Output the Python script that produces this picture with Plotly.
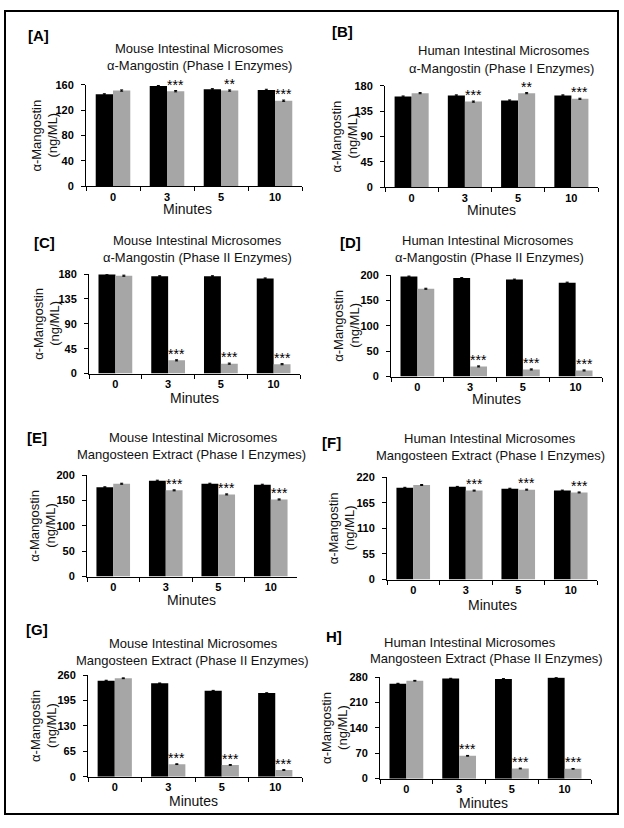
import plotly.graph_objects as go

# ---------------- data ----------------
minutes = ["0", "3", "5", "10"]

a_black = [145, 158, 153, 152]
a_grey = [151, 150, 151, 135]
a_stars = ["", "***", "**", "***"]

b_black = [161, 163, 154, 163]
b_grey = [167, 152, 167, 157]
b_stars = ["", "***", "**", "***"]

c_black = [179, 176, 176, 172]
c_grey = [177, 24, 18, 17]
c_stars = ["", "***", "***", "***"]

d_black = [197, 194, 191, 185]
d_grey = [173, 20, 14, 12]
d_stars = ["", "***", "***", "***"]

e_black = [176, 189, 183, 181]
e_grey = [183, 170, 162, 152]
e_stars = ["", "***", "***", "***"]

f_black = [197, 199, 195, 191]
f_grey = [203, 191, 193, 187]
f_stars = ["", "***", "***", "***"]

g_black = [246, 239, 220, 214]
g_grey = [252, 32, 30, 17]
g_stars = ["", "***", "***", "***"]

h_black = [262, 276, 275, 278]
h_grey = [270, 63, 28, 27]
h_stars = ["", "***", "***", "***"]

err_black = [1, 1, 1, 1]
err_grey = [1, 1, 1, 1]

y_ranges = [160, 180, 180, 200, 200, 220, 260, 280]
y_dticks = [40, 45, 45, 50, 50, 55, 65, 70]

panel_labels = ["[A]", "[B]", "[C]", "[D]", "[E]", "[F]", "[G]", "H]"]
title1 = ["Mouse Intestinal Microsomes", "Human Intestinal Microsomes"] * 4
title2 = ["α-Mangostin (Phase I Enzymes)", "α-Mangostin (Phase I Enzymes)",
          "α-Mangostin (Phase II Enzymes)", "α-Mangostin (Phase II Enzymes)",
          "Mangosteen Extract (Phase I Enzymes)", "Mangosteen Extract (Phase I Enzymes)",
          "Mangosteen Extract (Phase II Enzymes)", "Mangosteen Extract (Phase II Enzymes)"]
y_title1 = "α-Mangostin"
y_title2 = "(ng/ML)"
x_title = "Minutes"

blacks = [a_black, b_black, c_black, d_black, e_black, f_black, g_black, h_black]
greys = [a_grey, b_grey, c_grey, d_grey, e_grey, f_grey, g_grey, h_grey]
stars = [a_stars, b_stars, c_stars, d_stars, e_stars, f_stars, g_stars, h_stars]

# ---------------- layout (pixel geometry) ----------------
W, H = 624, 828
FONT = "Arial, Liberation Sans, sans-serif"

# plot area: x0, x1, ytop, ybottom
areas = [(86, 302, 80, 183), (385, 598, 81, 184),
         (89, 300, 272, 373), (391, 602, 273, 376),
         (87, 297, 476, 579), (387, 597, 478, 582),
         (88, 302, 679, 782), (380, 591, 681, 784)]
# title line centers (x1, y1, x2, y2)
titles_pos = [(199, 43, 199, 60), (504, 45, 501, 63),
              (197, 238, 197, 255), (488, 238, 489, 255),
              (193, 438, 191, 455), (490, 439, 490, 456),
              (193, 647, 192, 664), (470, 646, 486, 662)]
label_pos = [(38, 30), (342, 26), (45, 240), (350, 240),
             (37, 438), (331, 443), (37, 633), (334, 640)]
ytitle_x = [45, 345, 47, 347, 43, 341, 44, 335]
minutes_pos = [(187, 206), (491, 207), (194, 398), (497, 399),
               (191, 603), (492, 608), (193, 807), (483, 809)]


def fx(px):
    return px / W


def fy(py):
    return 1 - py / H


fig = go.Figure()
annotations = []
layout_axes = {}

for i in range(8):
    k = "" if i == 0 else str(i + 1)
    xa, ya = "x" + k, "y" + k
    fig.add_trace(go.Bar(
        x=minutes, y=blacks[i], name="Control", marker=dict(color="#000000", line=dict(width=0)),
        error_y=dict(type="data", array=err_black, color="#000000", thickness=1, width=1.5),
        xaxis=xa, yaxis=ya, showlegend=False))
    fig.add_trace(go.Bar(
        x=minutes, y=greys[i], name="Treated", marker=dict(color="#a6a6a6", line=dict(width=0)),
        error_y=dict(type="data", array=err_grey, color="#000000", thickness=1, width=1.5),
        xaxis=xa, yaxis=ya, showlegend=False))

    x0, x1, yt, yb = areas[i]
    layout_axes["xaxis" + k] = dict(
        domain=[fx(x0), fx(x1)], anchor=ya, type="category",
        showline=True, linecolor="#000000", linewidth=1,
        ticks="outside", tickson="boundaries", ticklen=4, tickcolor="#000000",
        ticklabelstandoff=0,
        tickfont=dict(family=FONT, size=11, color="#000000", weight="bold"),
        showgrid=False, zeroline=False, fixedrange=True)
    layout_axes["yaxis" + k] = dict(
        domain=[fy(yb), fy(yt)], anchor=xa, range=[0, y_ranges[i]],
        tick0=0, dtick=y_dticks[i],
        showline=True, linecolor="#000000", linewidth=1,
        ticks="outside", ticklen=4, tickcolor="#000000",
        ticklabelstandoff=5,
        tickfont=dict(family=FONT, size=11, color="#000000", weight="bold"),
        showgrid=False, zeroline=False, fixedrange=True)

    # stars
    for j, s in enumerate(stars[i]):
        if s:
            annotations.append(dict(
                x=j + 0.16, y=greys[i][j] + err_grey[j], xref=xa, yref=ya,
                text=s, showarrow=False, yanchor="bottom", yshift=-4,
                font=dict(family=FONT, size=14, color="#000000")))

    # titles
    t1x, t1y, t2x, t2y = titles_pos[i]
    annotations.append(dict(x=fx(t1x), y=fy(t1y), xref="paper", yref="paper",
                            text=title1[i], showarrow=False, xanchor="center", yanchor="middle",
                            font=dict(family=FONT, size=13, color="#111111")))
    annotations.append(dict(x=fx(t2x), y=fy(t2y), xref="paper", yref="paper",
                            text=title2[i], showarrow=False, xanchor="center", yanchor="middle",
                            font=dict(family=FONT, size=13, color="#111111")))
    # panel label
    lx, ly = label_pos[i]
    annotations.append(dict(x=fx(lx), y=fy(ly), xref="paper", yref="paper",
                            text=panel_labels[i], showarrow=False, xanchor="center", yanchor="middle",
                            font=dict(family=FONT, size=15, color="#000000", weight="bold")))
    # y title (two lines)
    yc = (yt + yb) / 2
    annotations.append(dict(x=fx(ytitle_x[i] - 8), y=fy(yc), xref="paper", yref="paper",
                            text=y_title1, showarrow=False, textangle=-90,
                            xanchor="center", yanchor="middle",
                            font=dict(family=FONT, size=13, color="#111111")))
    annotations.append(dict(x=fx(ytitle_x[i] + 8), y=fy(yc), xref="paper", yref="paper",
                            text=y_title2, showarrow=False, textangle=-90,
                            xanchor="center", yanchor="middle",
                            font=dict(family=FONT, size=13, color="#111111")))
    # x title
    mx, my = minutes_pos[i]
    annotations.append(dict(x=fx(mx), y=fy(my), xref="paper", yref="paper",
                            text=x_title, showarrow=False, xanchor="center", yanchor="middle",
                            font=dict(family=FONT, size=14, color="#111111")))

fig.update_layout(
    width=W, height=H, autosize=False,
    margin=dict(l=0, r=0, t=0, b=0),
    paper_bgcolor="#ffffff", plot_bgcolor="#ffffff",
    barmode="group", bargap=0.36, bargroupgap=0.0,
    annotations=annotations,
    shapes=[dict(type="rect", xref="paper", yref="paper",
                 x0=fx(5), x1=fx(618), y0=fy(820), y1=fy(5),
                 line=dict(color="#000000", width=2))],
    **layout_axes)

fig.write_html("out.html", config={"displayModeBar": False},
               post_script="document.body.style.margin='0';document.body.style.padding='0';")
